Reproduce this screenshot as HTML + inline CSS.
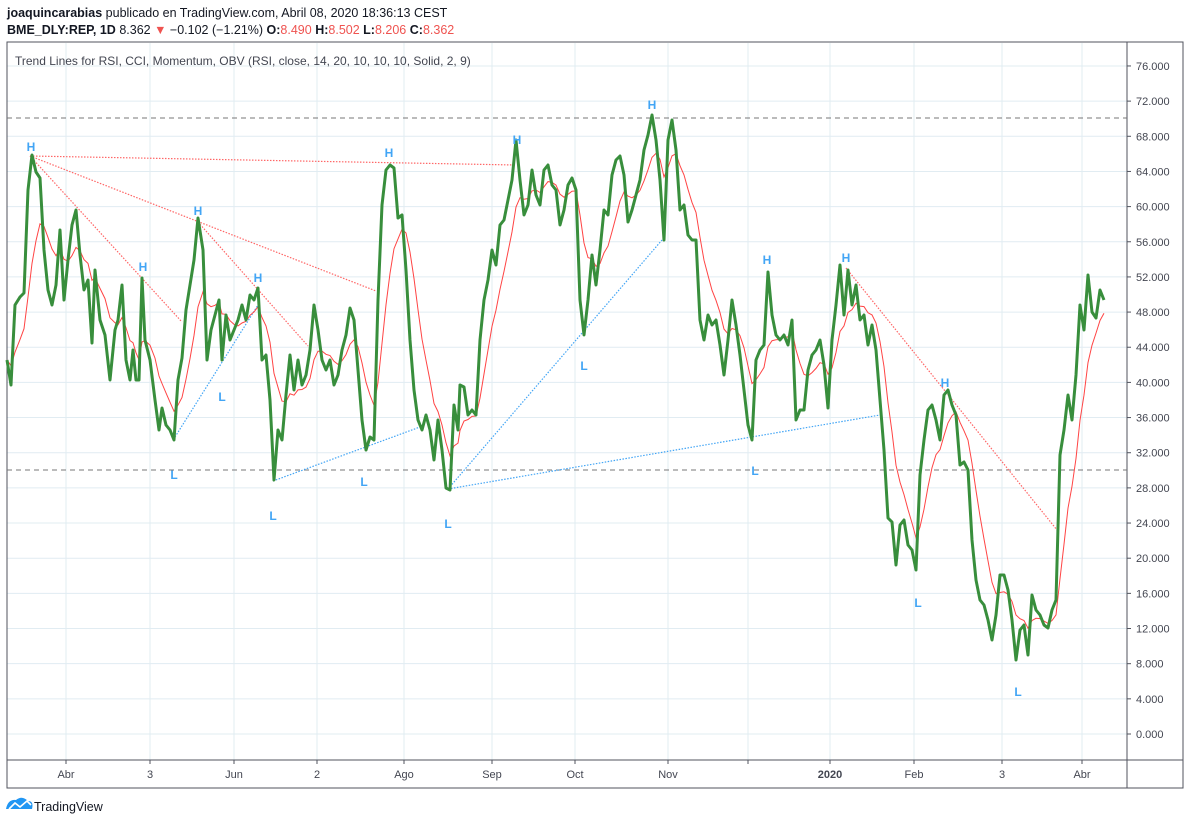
<!DOCTYPE html>
<html><head><meta charset="utf-8"><style>
body{margin:0;background:#fff;width:1188px;height:825px;overflow:hidden;font-family:"Liberation Sans",sans-serif}
</style></head><body>
<svg id="s" width="1188" height="825" xmlns="http://www.w3.org/2000/svg" font-family="Liberation Sans, sans-serif">
<text x="7" y="17" font-size="12.5" fill="#131722"><tspan font-weight="bold">joaquincarabias</tspan> publicado en TradingView.com, Abril 08, 2020 18:36:13 CEST</text>
<text x="7" y="34" font-size="12.5" fill="#131722"><tspan font-weight="bold">BME_DLY:REP, 1D</tspan> 8.362 <tspan fill="#ef5350">▼</tspan> −0.102 (−1.21%) <tspan font-weight="bold">O:</tspan><tspan fill="#ef5350">8.490</tspan> <tspan font-weight="bold">H:</tspan><tspan fill="#ef5350">8.502</tspan> <tspan font-weight="bold">L:</tspan><tspan fill="#ef5350">8.206</tspan> <tspan font-weight="bold">C:</tspan><tspan fill="#ef5350">8.362</tspan></text>
<g id="grid"></g>
<rect x="7" y="42" width="1176" height="746" fill="none" stroke="#50535e" stroke-width="1"/>
<line x1="1127" y1="42" x2="1127" y2="788" stroke="#50535e"/>
<line x1="7" y1="760" x2="1183" y2="760" stroke="#50535e"/>
<line x1="7" y1="118" x2="1127" y2="118" stroke="#777" stroke-dasharray="5,4"/>
<line x1="7" y1="470" x2="1127" y2="470" stroke="#777" stroke-dasharray="5,4"/>
<g stroke="#f66" stroke-width="1.2" stroke-dasharray="1.5,1.5" fill="none">
<line x1="30" y1="156" x2="515" y2="165"/><line x1="30" y1="156" x2="182" y2="322"/>
<line x1="30" y1="156" x2="376" y2="291"/><line x1="198" y1="222" x2="308" y2="346"/>
<line x1="846" y1="268" x2="1057" y2="530"/></g>
<g stroke="#42a5f5" stroke-width="1.2" stroke-dasharray="1.5,1.5" fill="none">
<line x1="175" y1="437" x2="258" y2="305"/><line x1="273" y1="481" x2="420" y2="427"/>
<line x1="448" y1="489" x2="662" y2="240"/><line x1="448" y1="489" x2="880" y2="415"/></g>
<polyline id="red" fill="none" stroke="#f44" stroke-width="1"/>
<polyline id="grn" fill="none" stroke="#388e3c" stroke-width="3" stroke-linejoin="round"/>
<g id="hl" font-size="12" fill="#42a5f5" font-weight="bold" text-anchor="middle"></g>
<text x="15" y="65" font-size="12" fill="#434651">Trend Lines for RSI, CCI, Momentum, OBV (RSI, close, 14, 20, 10, 10, 10, Solid, 2, 9)</text>
<g id="yl" font-size="11" fill="#434651"></g>
<g id="xl" font-size="11" fill="#434651" text-anchor="middle"></g>
<g transform="translate(6,797)"><path d="M0 12 Q2 2 10 3 Q16 -2 22 4 Q28 4 26 12 Z" fill="#2196f3"/><polyline points="3,12 9,6 14,10 21,4 25,8" stroke="#fff" stroke-width="1.6" fill="none"/></g>
<text x="34" y="811" font-size="12.5" fill="#131722">TradingView</text>
</svg>
<script>
var N="http://www.w3.org/2000/svg";
function el(p,t,a,tx){var e=document.createElementNS(N,t);for(var k in a)e.setAttribute(k,a[k]);if(tx)e.textContent=tx;document.getElementById(p).appendChild(e);}
var xs=[66,150,234,317,404,492,575,668,748,830,914,1002,1082],xn=["Abr","3","Jun","2","Ago","Sep","Oct","Nov","","2020","Feb","3","Abr"];
xs.forEach(function(x,i){el("grid","line",{x1:x,y1:43,x2:x,y2:760,stroke:"#e1ecf2"});if(xn[i])el("xl","text",{x:x,y:778,"font-weight":xn[i]=="2020"?"bold":"normal"},xn[i]);el("xl","line",{x1:x,y1:760,x2:x,y2:764,stroke:"#50535e"});});
for(var v=0;v<=76;v+=4){var y=734-v*8.79;el("grid","line",{x1:7,y1:y,x2:1127,y2:y,stroke:"#e1ecf2"});el("yl","line",{x1:1127,y1:y,x2:1131,y2:y,stroke:"#50535e"});el("yl","text",{x:1136,y:y+4},v.toFixed(3));}
var g="7,360;11,385;15,305;20,297;24,293;28,190;32,155;36,172;40,178;44,250;48,290;52,305;56,285;60,230;64,300;68,260;72,225;76,210;80,255;84,290;88,280;92,343;95,270;100,320;105,335;110,380;115,330;118,320;122,285;126,360;130,380;133,350;136,380;139,380;142,278;145,340;150,360;155,400;159,430;162,408;166,425;170,430;174,440;178,380;182,358;186,310;190,285;194,260;198,218;203,250;207,360;211,330;215,315;219,300;222,360;226,315;230,340;234,330;238,320;242,305;246,320;250,295;254,300;258,288;262,360;266,355;270,400;274,480;278,430;282,440;286,395;290,355;294,390;298,360;302,385;306,375;310,350;314,305;318,330;322,360;326,370;330,360;334,385;338,375;342,350;346,335;350,308;354,320;358,370;362,420;366,450;370,437;374,440;378,300;382,205;386,170;390,165;394,168;398,218;402,215;406,270;410,340;414,390;418,420;422,430;426,415;430,430;434,460;438,420;442,450;446,488;450,490;454,405;458,430;460,385;464,387;468,415;472,410;476,415;480,340;484,300;488,280;492,250;496,265;500,225;504,220;508,200;512,180;516,140;520,180;524,215;528,205;532,170;536,195;540,205;544,170;548,165;552,185;556,190;560,225;564,210;568,185;572,178;576,190;580,300;584,335;588,300;592,255;596,285;600,250;604,210;608,215;612,175;616,160;620,156;624,175;628,222;632,210;636,195;640,180;644,150;648,135;652,115;656,140;660,180;664,240;668,140;672,120;676,150;680,210;684,205;688,235;692,240;696,240;700,320;704,340;708,315;712,325;716,320;720,345;724,375;728,340;732,300;736,325;740,355;744,390;748,425;752,440;756,360;760,350;764,345;768,272;772,315;776,335;780,340;784,335;788,345;792,320;796,420;800,410;804,410;808,370;812,355;816,350;820,340;824,365;828,408;832,340;836,305;840,265;844,315;848,270;852,305;856,285;860,320;864,315;868,345;872,325;876,350;880,400;884,450;888,518;892,522;896,565;900,525;904,520;908,545;912,550;916,570;920,475;924,440;928,410;932,405;936,420;940,440;944,395;948,390;952,405;956,415;960,465;964,462;968,470;972,540;976,580;980,600;984,605;988,620;992,640;996,615;1000,575;1004,575;1008,590;1012,620;1016,660;1020,630;1024,625;1028,655;1032,595;1036,610;1040,615;1044,625;1048,628;1052,610;1056,600;1060,455;1064,430;1068,395;1072,420;1076,375;1080,305;1084,330;1088,275;1092,312;1096,318;1100,290;1104,300";
var P=g.split(";").map(function(s){return s.split(",").map(Number)});
document.getElementById("grn").setAttribute("points",g.replace(/;/g," "));
var r=[];for(var i=0;i<P.length;i++){var s=0,w=0;for(var j=0;j<10;j++){var k=Math.max(0,i-j),ww=Math.pow(0.8,j);s+=P[k][1]*ww;w+=ww;}r.push(P[i][0]+","+(s/w).toFixed(1));}
document.getElementById("red").setAttribute("points",r.join(" "));
[["H",31,151],["H",143,271],["H",198,215],["H",258,282],["H",389,157],["H",517,144],["H",652,109],["H",767,264],["H",846,262],["H",945,387],
["L",174,479],["L",222,401],["L",273,520],["L",364,486],["L",448,528],["L",584,370],["L",755,475],["L",918,607],["L",1018,696]].forEach(function(a){el("hl","text",{x:a[1],y:a[2]},a[0]);});
</script>
</body></html>
